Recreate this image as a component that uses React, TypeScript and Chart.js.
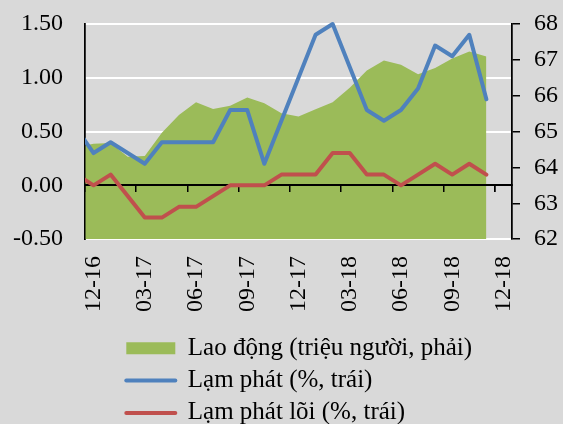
import { useEffect, useRef } from 'react';
import { Chart, registerables } from 'chart.js';

Chart.register(...registerables);

// Months from 11-16 (partly outside the visible axis) to 12-18
const months = [
  '11-16', '12-16', '01-17', '02-17', '03-17', '04-17', '05-17', '06-17', '07-17',
  '08-17', '09-17', '10-17', '11-17', '12-17', '01-18', '02-18', '03-18', '04-18',
  '05-18', '06-18', '07-18', '08-18', '09-18', '10-18', '11-18', '12-18',
];
const tickLabels = ['12-16', '03-17', '06-17', '09-17', '12-17', '03-18', '06-18', '09-18', '12-18'];

// Lao động (triệu người) – right axis
const labor = [
  64.56, 64.66, 64.68, 64.3, 64.32, 64.97, 65.46, 65.82, 65.63, 65.72, 65.95, 65.79,
  65.51, 65.42, 65.62, 65.82, 66.22, 66.7, 66.98, 66.86, 66.6, 66.77, 67.04, 67.23, 67.09,
];
// Lạm phát (%) – left axis
const inflation = [
  0.53, 0.3, 0.4, 0.3, 0.2, 0.4, 0.4, 0.4, 0.4, 0.7, 0.7, 0.2,
  0.6, 1.0, 1.4, 1.5, 1.1, 0.7, 0.6, 0.7, 0.9, 1.3, 1.2, 1.4, 0.8,
];
// Lạm phát lõi (%) – left axis
const coreInflation = [
  0.1, 0.0, 0.1, -0.1, -0.3, -0.3, -0.2, -0.2, -0.1, 0.0, 0.0, 0.0,
  0.1, 0.1, 0.1, 0.3, 0.3, 0.1, 0.1, 0.0, 0.1, 0.2, 0.1, 0.2, 0.1,
];
const seriesNames = ['Lao động (triệu người, phải)', 'Lạm phát (%, trái)', 'Lạm phát lõi (%, trái)'];
const leftRange = [-0.5, 1.5, 0.5];
const rightRange = [62, 68, 1];

const FONT = "'Liberation Serif', 'Times New Roman', serif";
const GREEN = '#9BBB59';
const BLUE = '#4F81BD';
const RED = '#C0504D';
const BG = '#D9D9D9';

export default function App() {
  const ref = useRef<HTMLCanvasElement>(null);

  useEffect(() => {
    const first = months.indexOf(tickLabels[0]);
    const toPts = (arr: number[]) => arr.map((v, i) => ({ x: i - first, y: v }));
    const labelPos = tickLabels.map((l) => months.indexOf(l) - first);
    const xMin = -0.5;
    const xMax = months.length - first - 0.5;
    const lineClip = { left: 0, top: 10, right: 10, bottom: 10 };

    const axisOnTop = {
      id: 'axisOnTop',
      beforeDatasetsDraw(chart: any) {
        const s = chart.scales;
        s.x2.drawGrid(chart.chartArea);
        s.x2.drawBorder();
        s.y.drawBorder();
        s.y1.drawBorder();
      },
    };
    const legendShift = {
      id: 'legendShift',
      afterLayout(chart: any) {
        const lg = chart.legend;
        if (!lg) return;
        lg.left += 34;
        lg.right += 34;
        lg.top += 11.4;
        lg.bottom += 11.4;
      },
    };
    const vPad = (scale: any, w: number) => {
      scale.width = w;
      scale.paddingTop = 0;
      scale.paddingBottom = 0;
    };

    const chart = new Chart(ref.current!, {
      type: 'line',
      data: {
        datasets: [
          {
            label: seriesNames[0],
            data: toPts(labor),
            yAxisID: 'y1',
            xAxisID: 'x',
            fill: 'start',
            backgroundColor: GREEN,
            borderColor: 'rgba(0,0,0,0)',
            borderWidth: 0,
            pointRadius: 0,
            pointHoverRadius: 0,
            pointStyle: 'rect',
            tension: 0,
            order: 3,
          },
          {
            label: seriesNames[1],
            data: toPts(inflation),
            yAxisID: 'y',
            xAxisID: 'x',
            fill: false,
            borderColor: BLUE,
            backgroundColor: BLUE,
            borderWidth: 4,
            borderCapStyle: 'round',
            borderJoinStyle: 'round',
            pointRadius: 0,
            pointHoverRadius: 0,
            pointStyle: 'line',
            tension: 0,
            clip: lineClip,
            order: 2,
          },
          {
            label: seriesNames[2],
            data: toPts(coreInflation),
            yAxisID: 'y',
            xAxisID: 'x',
            fill: false,
            borderColor: RED,
            backgroundColor: RED,
            borderWidth: 4,
            borderCapStyle: 'round',
            borderJoinStyle: 'round',
            pointRadius: 0,
            pointHoverRadius: 0,
            pointStyle: 'line',
            tension: 0,
            clip: lineClip,
            order: 1,
          },
        ],
      } as any,
      options: {
        responsive: false,
        animation: false,
        devicePixelRatio: 1,
        layout: { padding: { top: 24, left: 0, right: 0, bottom: 0 } },
        events: [],
        plugins: {
          tooltip: { enabled: false },
          filler: { drawTime: 'beforeDatasetsDraw' },
          legend: {
            position: 'bottom',
            align: 'start',
            fullSize: false,
            labels: {
              usePointStyle: true,
              pointStyleWidth: 49,
              boxHeight: 12,
              padding: 7.3,
              color: '#000',
              font: { family: FONT, size: 25 },
              sort: (a: any, b: any) => a.datasetIndex - b.datasetIndex,
              generateLabels: (c: any) => {
                const base = (Chart.defaults.plugins.legend.labels as any).generateLabels(c);
                return base.map((it: any) => {
                  const ds = c.data.datasets[it.datasetIndex];
                  return {
                    ...it,
                    fillStyle: ds.backgroundColor,
                    strokeStyle: ds.borderColor,
                    lineWidth: ds.borderWidth || 0,
                    lineCap: 'round',
                  };
                });
              },
            },
          } as any,
        },
        scales: {
          x: {
            type: 'linear',
            position: 'bottom',
            min: xMin,
            max: xMax,
            afterBuildTicks: (scale: any) => {
              scale.ticks = labelPos.map((v) => ({ value: v }));
            },
            afterFit: (scale: any) => {
              scale.height = 78;
            },
            grid: { display: false, drawTicks: false },
            border: { display: false },
            ticks: {
              autoSkip: false,
              maxRotation: 90,
              minRotation: 90,
              padding: 17,
              color: '#000',
              font: { family: FONT, size: 24 },
              callback: (_v: any, i: number) => tickLabels[i],
            },
          },
          x2: {
            type: 'linear',
            axis: 'x',
            position: { y: 0 },
            min: xMin,
            max: xMax,
            afterBuildTicks: (scale: any) => {
              scale.ticks = labelPos.map((v) => ({ value: v - 0.5 }));
            },
            grid: {
              display: true,
              drawOnChartArea: false,
              drawTicks: true,
              tickLength: 6,
              tickColor: '#000',
              tickWidth: 1.5,
              lineWidth: 1.5,
              color: '#000',
            },
            border: { display: true, color: '#000', width: 2 },
            ticks: { display: false },
          },
          y: {
            type: 'linear',
            position: 'left',
            min: leftRange[0],
            max: leftRange[1],
            afterFit: (scale: any) => vPad(scale, 85),
            grid: {
              color: (ctx: any) => (ctx.tick && ctx.tick.value === 0 ? 'rgba(0,0,0,0)' : '#FFFFFF'),
              lineWidth: 2,
              drawTicks: false,
            },
            border: { display: true, color: '#000', width: 1.5 },
            ticks: {
              stepSize: leftRange[2],
              padding: 22,
              color: '#000',
              font: { family: FONT, size: 24 },
              callback: (v: any) => Number(v).toFixed(2),
            },
          },
          y1: {
            type: 'linear',
            position: 'right',
            min: rightRange[0],
            max: rightRange[1],
            afterFit: (scale: any) => vPad(scale, 51),
            grid: {
              drawOnChartArea: false,
              drawTicks: true,
              tickLength: 8,
              tickColor: '#000',
              tickWidth: 1.5,
              lineWidth: 1.5,
              color: '#000',
            },
            border: { display: true, color: '#000', width: 1.5 },
            ticks: {
              stepSize: rightRange[2],
              padding: 14,
              color: '#000',
              font: { family: FONT, size: 24 },
              callback: (v: any) => String(v),
            },
          },
        },
      } as any,
      plugins: [axisOnTop, legendShift],
    });

    return () => chart.destroy();
  }, []);

  return (
    <div
      style={{
        position: 'fixed',
        left: 0,
        top: 0,
        width: 563,
        height: 424,
        background: BG,
        overflow: 'hidden',
      }}
    >
      <canvas ref={ref} width={563} height={424} style={{ display: 'block' }} />
    </div>
  );
}
